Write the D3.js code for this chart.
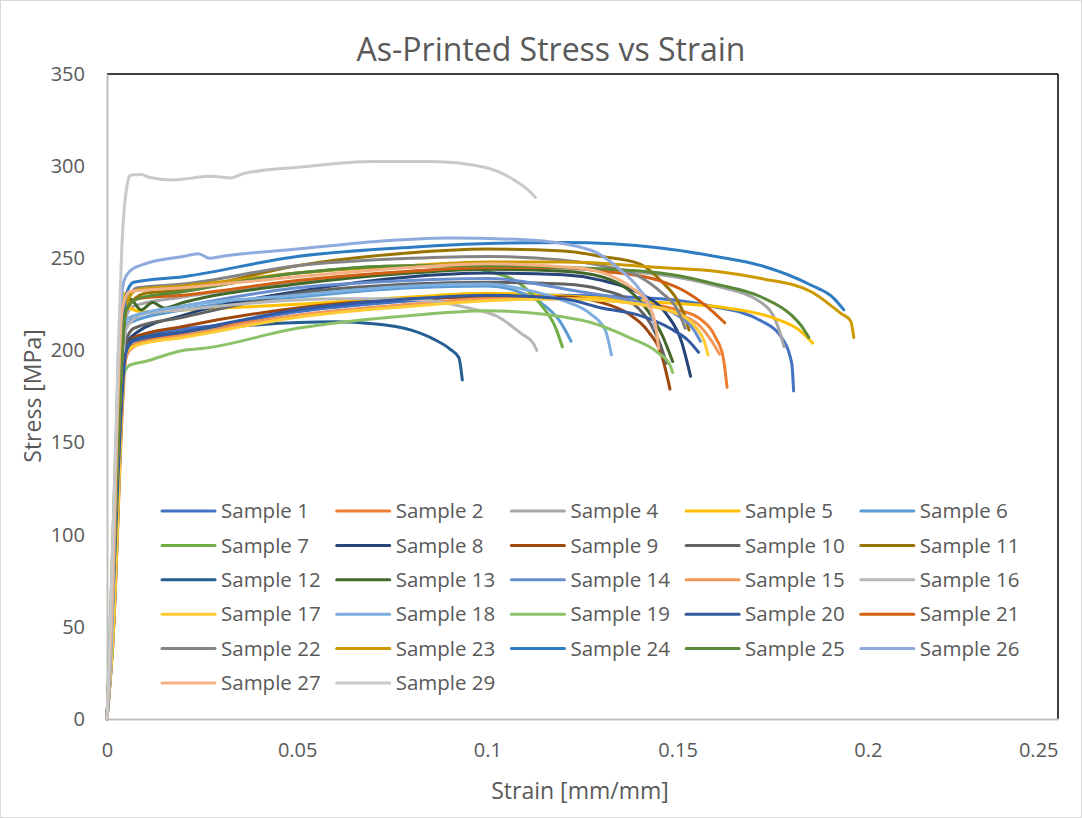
<!DOCTYPE html>
<html>
<head>
<meta charset="utf-8">
<script src="https://cdnjs.cloudflare.com/ajax/libs/d3/7.8.5/d3.min.js"></script>
<style>
  body { margin: 0; background: #fff; }
  text { font-family: "Open Sans", sans-serif; fill: #595959; }
</style>
</head>
<body>
<svg id="chart" width="1082" height="818"></svg>
<script>
// names of the samples, in legend order
const sampleNames = ["Sample 1", "Sample 2", "Sample 4", "Sample 5", "Sample 6",
  "Sample 7", "Sample 8", "Sample 9", "Sample 10", "Sample 11",
  "Sample 12", "Sample 13", "Sample 14", "Sample 15", "Sample 16",
  "Sample 17", "Sample 18", "Sample 19", "Sample 20", "Sample 21",
  "Sample 22", "Sample 23", "Sample 24", "Sample 25", "Sample 26",
  "Sample 27", "Sample 29"]

// [strain, stress] points
const s1 = [[0,0],[0.001,40],[0.004,185],[0.006,204],[0.01,208],[0.03,214],[0.05,221],[0.08,227],[0.1,230],[0.12,230],[0.1455,228],[0.159,224],[0.172,216],[0.177,208],[0.18,193],[0.1805,178]]
const s2 = [[0,0],[0.0015,40],[0.005,196],[0.007,203],[0.02,209],[0.05,219],[0.08,225],[0.1,228],[0.12,229],[0.14,226],[0.15,222],[0.156,217],[0.16,207],[0.162,196],[0.163,180]]
const s4 = [[0,0],[0.001,50],[0.004,212],[0.007,224],[0.02,229],[0.05,237],[0.08,243],[0.1,245],[0.125,244],[0.1455,241],[0.16,235],[0.172,226],[0.176,215],[0.178,202]]
const s5 = [[0,0],[0.001,45],[0.0035,200],[0.0045,231],[0.006,223],[0.01,221],[0.02,222],[0.05,225],[0.08,229],[0.1,231],[0.125,229],[0.1455,226],[0.163,223],[0.176,217],[0.182,211],[0.1855,204]]
const s6 = [[0,0],[0.001,45],[0.004,205],[0.006,215],[0.02,222],[0.05,229],[0.08,234],[0.1,235],[0.108,232],[0.114,226],[0.119,216],[0.122,205]]
const s7 = [[0,0],[0.0005,30],[0.004,218],[0.006,227],[0.02,232],[0.05,242],[0.08,246],[0.09,246],[0.1,243],[0.108,237],[0.114,225],[0.118,212],[0.1197,202]]
const s8 = [[0,0],[0.0015,40],[0.005,203],[0.008,210],[0.02,219],[0.05,232],[0.08,240],[0.1,242],[0.12,241],[0.13,238],[0.14,231],[0.147,220],[0.151,205],[0.1534,186]]
const s9 = [[0,0],[0.001,40],[0.005,200],[0.007,207],[0.02,213],[0.05,223],[0.08,228],[0.1,229],[0.12,229],[0.13,226],[0.137,220],[0.142,211],[0.146,196],[0.148,179]]
const s10 = [[0,0],[0.001,40],[0.005,205],[0.007,212],[0.02,218],[0.05,231],[0.08,236],[0.1,237],[0.12,236],[0.13,233],[0.138,226],[0.143,214],[0.146,200],[0.147,193]]
const s11 = [[0,0],[0.001,45],[0.005,222],[0.01,231],[0.02,233],[0.05,246],[0.08,253],[0.1,255],[0.12,254],[0.13,251],[0.14,247],[0.146,237],[0.15,227],[0.152,218],[0.153,211]]
const s12 = [[0,0],[0.001,40],[0.005,200],[0.007,206],[0.02,210],[0.04,214],[0.06,215.5],[0.07,214.5],[0.08,211],[0.086,206],[0.09,201],[0.0925,196],[0.0934,184]]
const s13 = [[0,0],[0.001,40],[0.004,215],[0.006,228],[0.009,222],[0.012,226],[0.015,223],[0.02,226],[0.05,236],[0.08,242],[0.1,244],[0.12,243],[0.13,240],[0.137,233],[0.142,222],[0.146,208],[0.1487,194]]
const s14 = [[0,0],[0.0015,45],[0.005,212],[0.008,219],[0.02,224],[0.05,234],[0.08,238],[0.1,239],[0.124,232],[0.14,226],[0.15,219],[0.154,212],[0.156,205]]
const s15 = [[0,0],[0.001,40],[0.005,197],[0.008,203],[0.02,208],[0.05,219],[0.08,225],[0.1,228],[0.12,228],[0.14,225],[0.15,220],[0.156,213],[0.159,205],[0.161,198]]
const s16 = [[0,0],[0.001,40],[0.005,212],[0.01,220],[0.02,222],[0.04,226],[0.06,228],[0.075,228],[0.085,227],[0.095,223],[0.103,218],[0.109,209],[0.112,204],[0.113,200]]
const s17 = [[0,0],[0.0015,40],[0.005,199],[0.008,203],[0.02,207],[0.05,218],[0.08,224],[0.1,227],[0.12,228],[0.14,225],[0.15,220],[0.155,212],[0.157,205],[0.158,197.5]]
const s18 = [[0,0],[0.001,45],[0.004,210],[0.006,218],[0.02,224],[0.05,230],[0.08,235],[0.1,236],[0.11,233],[0.12,227],[0.127,220],[0.131,211],[0.1326,197.5]]
const s19 = [[0,0],[0.001,35],[0.004,185],[0.006,192],[0.01,194],[0.02,200],[0.025,201],[0.05,212],[0.08,219],[0.1,221.5],[0.1245,216.5],[0.1376,206.7],[0.1447,199],[0.148,192],[0.1487,188]]
const s20 = [[0,0],[0.001,40],[0.005,199],[0.007,205],[0.02,210],[0.05,222],[0.08,228],[0.1,230],[0.12,228],[0.13,223],[0.14,219],[0.148,212],[0.153,205],[0.1555,199]]
const s21 = [[0,0],[0.001,45],[0.005,222],[0.008,228],[0.02,230],[0.05,238],[0.08,243],[0.1,245],[0.12,245],[0.13,243],[0.145,238],[0.152,232],[0.157,225],[0.1624,215]]
const s22 = [[0,0],[0.001,45],[0.005,225],[0.008,234],[0.02,236],[0.05,246],[0.08,250],[0.1,251],[0.12,249],[0.13,246],[0.14,240],[0.146,231],[0.15,222],[0.152,212]]
const s23 = [[0,0],[0.001,45],[0.005,225],[0.008,233],[0.02,235],[0.05,242],[0.08,246],[0.1,248],[0.12,248],[0.1455,245],[0.16,243],[0.172,239],[0.185,232],[0.193,220],[0.1955,216],[0.1963,207]]
const s24 = [[0,0],[0.001,50],[0.005,230],[0.007,237],[0.02,240],[0.05,251],[0.08,256],[0.1,258],[0.12,258.5],[0.1455,255.6],[0.16,251],[0.172,246],[0.185,235.5],[0.191,228.4],[0.1937,222]]
const s25 = [[0,0],[0.001,45],[0.005,222],[0.008,228],[0.02,232],[0.05,242],[0.08,246],[0.1,246],[0.12,245],[0.1455,242],[0.16,236],[0.172,229],[0.18,219],[0.183,212],[0.1845,207]]
const s26 = [[0,0],[0.0015,60],[0.003,200],[0.0045,238],[0.006,243],[0.01,247],[0.02,251],[0.024,252.5],[0.027,250],[0.03,251],[0.05,255],[0.07,259],[0.09,261],[0.11,260],[0.127,254.5],[0.135,243.6],[0.14,233],[0.143,222],[0.144,212]]
const s27 = [[0,0],[0.001,45],[0.004,222],[0.006,232],[0.02,234],[0.05,240],[0.08,245],[0.1,247],[0.124,244.7],[0.1376,234.5],[0.143,222],[0.1445,210],[0.145,201]]
const s29 = [[0,0],[0.001,60],[0.0026,173],[0.004,260],[0.0055,292],[0.006,295],[0.009,295.5],[0.011,294],[0.0174,292.5],[0.027,294.5],[0.0324,293.6],[0.036,296],[0.051,299.5],[0.07,302.5],[0.085,302.5],[0.1,299],[0.107,292.5],[0.1113,286],[0.1126,283]]

const seriesData = [s1, s2, s4, s5, s6, s7, s8, s9, s10, s11, s12, s13, s14, s15,
  s16, s17, s18, s19, s20, s21, s22, s23, s24, s25, s26, s27, s29]

const colors = ["#4472C4", "#ED7D31", "#A5A5A5", "#FFC000", "#5B9BD5", "#70AD47",
  "#264478", "#9E480E", "#636363", "#997300", "#255E91", "#43682B",
  "#698ED0", "#F1975A", "#B7B7B7", "#FFCD33", "#7CAFDD", "#8CC168",
  "#335AA1", "#D26012", "#848484", "#CC9A00", "#2E7DC2", "#5A8A39",
  "#8FAADC", "#F4B183", "#C9C9C9"]

const xTicks = [0, 0.05, 0.1, 0.15, 0.2, 0.25]
const yTicks = [0, 50, 100, 150, 200, 250, 300, 350]

const margin = { left: 107, right: 24, top: 74, bottom: 99 }
const width = 1082
const height = 818

const svg = d3.select("#chart")

svg.append("rect")
    .attr("x", 0.5).attr("y", 0.5)
    .attr("width", width - 1).attr("height", height - 1)
    .attr("fill", "#fff")
    .attr("stroke", "#d9d9d9")

const x = d3.scaleLinear()
    .domain([0, 0.25])
    .range([margin.left, width - margin.right])

const y = d3.scaleLinear()
    .domain([0, 350])
    .range([height - margin.bottom, margin.top])

// plot frame: black on top and right, grey axes on left and bottom
svg.append("line")
    .attr("x1", x(0)).attr("x2", x(0.25))
    .attr("y1", y(350)).attr("y2", y(350))
    .attr("stroke", "#000").attr("stroke-width", 1.5)
svg.append("line")
    .attr("x1", x(0.25)).attr("x2", x(0.25))
    .attr("y1", y(350)).attr("y2", y(0))
    .attr("stroke", "#000").attr("stroke-width", 1.5)

const xAxis = d3.axisBottom(x).tickValues(xTicks).tickSize(0).tickPadding(24)
    .tickFormat(d => d3.format("")(d))
const yAxis = d3.axisLeft(y).tickValues(yTicks).tickSize(0).tickPadding(22)

const gx = svg.append("g")
    .attr("transform", "translate(0," + y(0) + ")")
    .call(xAxis)
    .call(g => g.select(".domain").attr("stroke", "#bfbfbf").attr("stroke-width", 2))
gx.selectAll("text").style("font-size", "20px").attr("fill", "#595959")
// Excel pulls the last label back inside the chart
gx.selectAll("text").filter(d => d === 0.25).attr("text-anchor", "end").attr("x", 0)

svg.append("g")
    .attr("transform", "translate(" + x(0) + ",0)")
    .call(yAxis)
    .call(g => g.select(".domain").attr("stroke", "#bfbfbf").attr("stroke-width", 2))
    .selectAll("text").style("font-size", "20px").attr("fill", "#595959")

const line = d3.line()
    .x(d => x(d[0]))
    .y(d => y(d[1]))
    .curve(d3.curveMonotoneX)

svg.append("g")
    .selectAll("path")
    .data(seriesData)
    .enter()
    .append("path")
    .attr("d", line)
    .attr("fill", "none")
    .attr("stroke", (d, i) => colors[i])
    .attr("stroke-width", 3)
    .attr("stroke-linejoin", "round")
    .attr("stroke-linecap", "round")

// legend, 5 columns
const legend = svg.append("g").attr("id", "legend")
const item = legend.selectAll("g")
    .data(sampleNames)
    .enter()
    .append("g")
    .attr("transform", (d, i) => "translate(" + (162 + (i % 5) * 174.7) + "," + (511 + Math.floor(i / 5) * 34.4) + ")")
item.append("line")
    .attr("x1", 0).attr("x2", 53)
    .attr("stroke", (d, i) => colors[i])
    .attr("stroke-width", 3)
    .attr("stroke-linecap", "round")
item.append("text")
    .attr("x", 59).attr("dy", "0.35em")
    .style("font-size", "20.5px")
    .text(d => d)

svg.append("text")
    .attr("x", 551).attr("y", 50)
    .attr("dy", "0.35em")
    .attr("text-anchor", "middle")
    .style("font-size", "32px")
    .text("As-Printed Stress vs Strain")

svg.append("text")
    .attr("x", 580).attr("y", 791)
    .attr("dy", "0.35em")
    .attr("text-anchor", "middle")
    .style("font-size", "23px")
    .text("Strain [mm/mm]")

svg.append("text")
    .attr("transform", "translate(33,396) rotate(-90)")
    .attr("dy", "0.35em")
    .attr("text-anchor", "middle")
    .style("font-size", "23px")
    .text("Stress [MPa]")
</script>
</body>
</html>
